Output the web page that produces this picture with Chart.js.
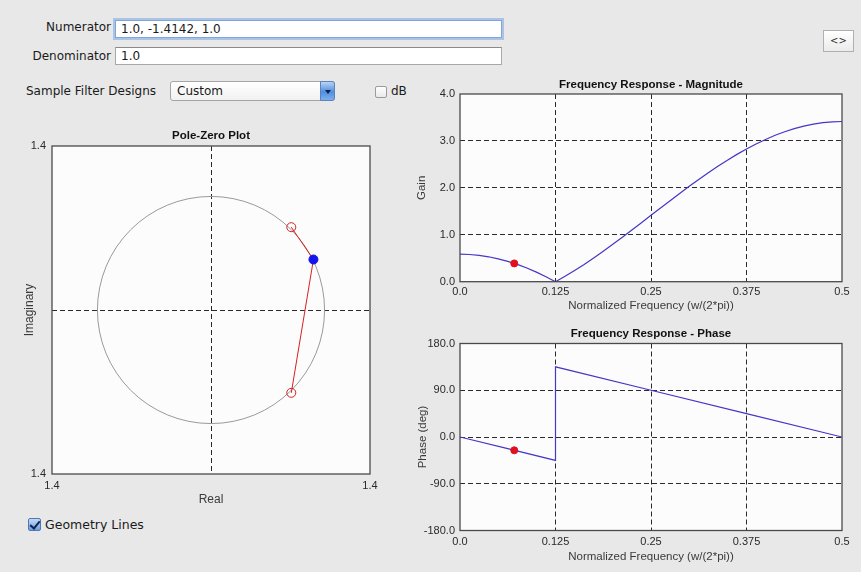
<!DOCTYPE html>
<html><head><meta charset="utf-8">
<script src="https://cdn.jsdelivr.net/npm/chart.js@4.4.1/dist/chart.umd.min.js"></script>
<style>
html,body{margin:0;padding:0;background:#e8e8e8;width:861px;height:572px;overflow:hidden;font-family:"DejaVu Sans",sans-serif;font-size:12px;color:#1a1a1a;}
.abs{position:absolute;white-space:nowrap;}
.lbl{line-height:16px;}
.field{background:#fff;border:1px solid #a8a8a8;border-top-color:#8a8a8a;box-sizing:border-box;padding-left:5px;line-height:16px;}
.focus{border-color:#7ea6dc;box-shadow:0 0 0 2px rgba(120,165,225,0.55);}
.select{background:linear-gradient(#ffffff,#f1f1f1);border:1px solid #a5a5a5;border-radius:3px;box-sizing:border-box;padding-left:6px;line-height:18px;}
.arrow{position:absolute;right:-1px;top:-1px;width:15px;height:20px;border-radius:0 3px 3px 0;background:linear-gradient(#b9d3f3,#4f8ee0 55%,#7fb0ee);border:1px solid #5b84bf;box-sizing:border-box;}
.arrow:after{content:"";position:absolute;left:4px;top:8px;border-left:3px solid transparent;border-right:3px solid transparent;border-top:4px solid #10204a;}
.cb{background:linear-gradient(#ffffff,#e9e9e9);border:1px solid #9a9a9a;border-radius:2px;box-sizing:border-box;}
.cbon{background:linear-gradient(#c4daf5,#6f9fe0);border:1px solid #4f77b3;border-radius:2px;box-sizing:border-box;}
.cbon:after{content:"";position:absolute;left:3px;top:0px;width:4px;height:8px;border-right:2px solid #13235a;border-bottom:2px solid #13235a;transform:rotate(40deg);}
.btn{background:linear-gradient(#ffffff,#ebebeb);border:1px solid #b0b0b0;box-sizing:border-box;text-align:center;font-size:10px;line-height:20px;color:#333;}
canvas{position:absolute;}
</style></head>
<body>
<div class="abs lbl" style="left:0;top:19px;width:111px;text-align:right;">Numerator</div>
<div class="abs field focus" style="left:115px;top:20px;width:387px;height:18px;">1.0, -1.4142, 1.0</div>
<div class="abs lbl" style="left:0;top:48px;width:111px;text-align:right;">Denominator</div>
<div class="abs field" style="left:115px;top:47px;width:387px;height:18px;">1.0</div>
<div class="abs lbl" style="left:26px;top:83px;">Sample Filter Designs</div>
<div class="abs select" style="left:170px;top:81px;width:165px;height:20px;">Custom<div class="arrow"></div></div>
<div class="abs cb" style="left:375px;top:86px;width:12px;height:12px;"></div>
<div class="abs lbl" style="left:391px;top:83px;">dB</div>
<div class="abs btn" style="left:823px;top:30px;width:31px;height:22px;">&lt;&gt;</div>
<div class="abs cbon" style="left:28px;top:518px;width:13px;height:13px;"></div>
<div class="abs lbl" style="left:45px;top:517px;font-size:12.5px;">Geometry Lines</div>

<canvas id="pz" width="400" height="405" style="left:0;top:110px;"></canvas>
<canvas id="mag" width="461" height="243" style="left:400px;top:75px;"></canvas>
<canvas id="ph" width="461" height="254" style="left:400px;top:318px;"></canvas>

<script>
// ---------- data ----------
const freqs = [0, 0.0125, 0.025, 0.0375, 0.05, 0.0625, 0.075, 0.0875, 0.1, 0.1125,
  0.125, 0.1375, 0.15, 0.1625, 0.175, 0.1875, 0.2, 0.2125, 0.225, 0.2375,
  0.25, 0.2625, 0.275, 0.2875, 0.3, 0.3125, 0.325, 0.3375, 0.35, 0.3625,
  0.375, 0.3875, 0.4, 0.4125, 0.425, 0.4375, 0.45, 0.4625, 0.475, 0.4875, 0.5];
const magnitude = [0.586, 0.580, 0.561, 0.531, 0.488, 0.434, 0.368, 0.291, 0.204, 0.107,
  0.0, 0.115, 0.239, 0.369, 0.506, 0.649, 0.796, 0.947, 1.101, 1.257,
  1.414, 1.571, 1.727, 1.881, 2.032, 2.180, 2.322, 2.459, 2.590, 2.713,
  2.828, 2.935, 3.032, 3.120, 3.196, 3.262, 3.316, 3.359, 3.390, 3.408, 3.414];
const phaseFreqs = [0, 0.0625, 0.125, 0.125, 0.25, 0.375, 0.5];
const phaseDeg = [0, -22.5, -45, 135, 90, 45, 0];
const markerFreq = [0.071];
const markerGain = [0.39];
const markerPhase = [-25.6];
const zeroRe = [0.707, 0.707];
const zeroIm = [0.707, -0.707];
const evalRe = [0.902];
const evalIm = [0.431];
const unitRadius = 1;

const freqTicks = [0, 0.125, 0.25, 0.375, 0.5];
const freqTickLabels = ['0.0', '0.125', '0.25', '0.375', '0.5'];
const gainTicks = [0, 1, 2, 3, 4];
const gainTickLabels = ['0.0', '1.0', '2.0', '3.0', '4.0'];
const phaseTicks = [-180, -90, 0, 90, 180];
const phaseTickLabels = ['-180.0', '-90.0', '0.0', '90.0', '180.0'];
const pzTicks = [-1.4, 0, 1.4];
const pzTickLabels = ['1.4', '', '1.4'];

// ---------- helpers ----------
const FONT = 'Liberation Sans, Arial, sans-serif';
function axis(pos, min, max, ticks, labels, title, size, tickPad, titleSize) {
  return {
    type: 'linear', position: pos, min: min, max: max,
    afterBuildTicks: s => { s.ticks = ticks.map(v => ({ value: v })); },
    afterFit: s => { if (pos === 'bottom') s.height = size; else s.width = size; },
    ticks: { autoSkip: false, maxRotation: 0, minRotation: 0, padding: tickPad, color: '#2a2a2a',
      font: { family: FONT, size: 11 }, callback: (v, i) => labels[i] },
    grid: { drawTicks: false, lineWidth: 1,
      color: c => (c.tick && c.tick.value > min + 1e-9 && c.tick.value < max - 1e-9) ? '#2a2a2a' : 'rgba(0,0,0,0)' },
    border: { display: false, dash: [5, 3] },
    title: { display: true, text: title, color: '#3a3a3a', padding: 0, font: { family: FONT, size: titleSize || 11.5 } }
  };
}
const framePlugin = {
  id: 'frame',
  beforeDraw(chart) {
    const a = chart.chartArea, c = chart.ctx;
    c.save(); c.fillStyle = '#fcfcfc'; c.fillRect(a.left, a.top, a.right - a.left, a.bottom - a.top); c.restore();
  },
  afterDraw(chart) {
    const a = chart.chartArea, c = chart.ctx;
    c.save(); c.strokeStyle = '#4a4a4a'; c.lineWidth = 1.3;
    c.strokeRect(a.left, a.top, a.right - a.left, a.bottom - a.top); c.restore();
  }
};
const circlePlugin = {
  id: 'unitCircle',
  beforeDatasetsDraw(chart) {
    const xs = chart.scales.x, ys = chart.scales.y, c = chart.ctx;
    const cx = xs.getPixelForValue(0), cy = ys.getPixelForValue(0);
    const r = xs.getPixelForValue(unitRadius) - cx;
    c.save(); c.strokeStyle = '#9a9a9a'; c.lineWidth = 1;
    c.beginPath(); c.arc(cx, cy, r, 0, Math.PI * 2); c.stroke(); c.restore();
  }
};
function baseOptions(titleText, padTop, padBottom, layoutPad, xAxis, yAxis) {
  return {
    responsive: false, animation: false, devicePixelRatio: 1,
    layout: { padding: layoutPad },
    plugins: {
      legend: { display: false }, tooltip: { enabled: false },
      title: { display: true, fullSize: false, text: titleText, color: '#111',
        font: { family: FONT, size: 11.5, weight: 'bold' },
        padding: { top: padTop, bottom: padBottom } }
    },
    scales: { x: xAxis, y: yAxis }
  };
}
const LINE = '#4636c6';
const RED = '#e0101e';

// ---------- magnitude ----------
new Chart(document.getElementById('mag'), {
  type: 'scatter',
  data: { datasets: [
    { data: markerFreq.map((f, i) => ({ x: f, y: markerGain[i] })), pointRadius: 3.5, pointBackgroundColor: RED, pointBorderColor: RED, order: 0 },
    { data: freqs.map((f, i) => ({ x: f, y: magnitude[i] })), showLine: true, borderColor: LINE, borderWidth: 1.2, pointRadius: 0, tension: 0, order: 1 }
  ] },
  options: baseOptions('Frequency Response - Magnitude', 3.1, 2.1, { left: 15.4, top: 0, right: 19, bottom: 4.9 },
    axis('bottom', 0, 0.5, freqTicks, freqTickLabels, 'Normalized Frequency (w/(2*pi))', 31.4, 4),
    axis('left', 0, 4, gainTicks, gainTickLabels, 'Gain', 44.6, 5)),
  plugins: [framePlugin]
});

// ---------- phase ----------
new Chart(document.getElementById('ph'), {
  type: 'scatter',
  data: { datasets: [
    { data: markerFreq.map((f, i) => ({ x: f, y: markerPhase[i] })), pointRadius: 3.5, pointBackgroundColor: RED, pointBorderColor: RED, order: 0 },
    { data: phaseFreqs.map((f, i) => ({ x: f, y: phaseDeg[i] })), showLine: true, borderColor: LINE, borderWidth: 1.2, pointRadius: 0, tension: 0, order: 1 }
  ] },
  options: baseOptions('Frequency Response - Phase', 9.1, 2.6, { left: 15.9, top: 0, right: 19, bottom: 8.4 },
    axis('bottom', 0, 0.5, freqTicks, freqTickLabels, 'Normalized Frequency (w/(2*pi))', 33.1, 4.5),
    axis('left', -180, 180, phaseTicks, phaseTickLabels, 'Phase (deg)', 44.1, 5)),
  plugins: [framePlugin]
});

// ---------- pole-zero ----------
const geometry = [
  { x: zeroRe[0], y: zeroIm[0] },
  { x: evalRe[0], y: evalIm[0] },
  { x: zeroRe[1], y: zeroIm[1] }
];
new Chart(document.getElementById('pz'), {
  type: 'scatter',
  data: { datasets: [
    { data: evalRe.map((r, i) => ({ x: r, y: evalIm[i] })), pointRadius: 4.5, pointBackgroundColor: '#1414ec', pointBorderColor: '#1414ec', order: 0 },
    { data: zeroRe.map((r, i) => ({ x: r, y: zeroIm[i] })), pointRadius: 4.5, pointBackgroundColor: 'rgba(0,0,0,0)', pointBorderColor: '#d42020', pointBorderWidth: 1, order: 1 },
    { data: geometry, showLine: true, borderColor: '#d82020', borderWidth: 1, pointRadius: 0, tension: 0, order: 2 }
  ] },
  options: baseOptions('Pole-Zero Plot', 19.1, 3.1, { left: 22.9, top: 0, right: 30, bottom: 8.4 },
    axis('bottom', -1.4, 1.4, pzTicks, pzTickLabels, 'Real', 32.6, 4.9, 12),
    axis('left', -1.4, 1.4, pzTicks, pzTickLabels, 'Imaginary', 29.1, 6, 12)),
  plugins: [framePlugin, circlePlugin]
});
</script>
</body></html>
